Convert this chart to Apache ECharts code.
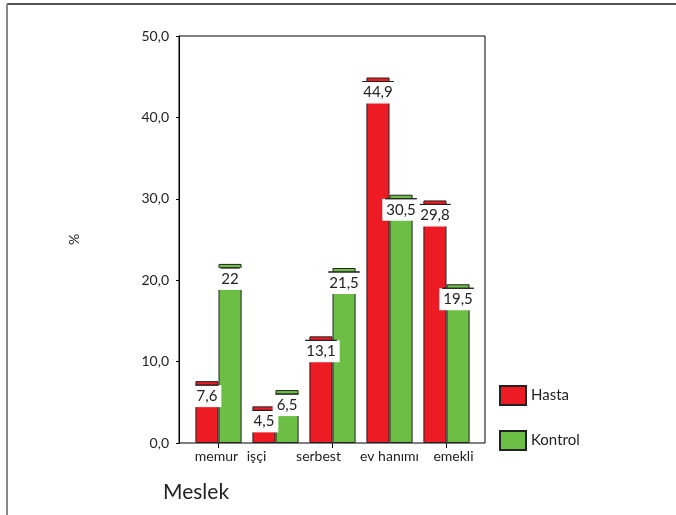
<!DOCTYPE html>
<html>
<head>
<meta charset="utf-8">
<script src="https://cdn.jsdelivr.net/npm/echarts@6/dist/echarts.min.js"></script>
<style>
  html, body { margin: 0; padding: 0; background: #fff; }
  #chart { width: 676px; height: 515px; }
</style>
</head>
<body>
<div id="chart"></div>
<script>
// Occupation groups and the share (%) of each group
const categories = ['memur', 'işçi', 'serbest', 'ev hanımı', 'emekli'];
const hasta = [7.6, 4.5, 13.1, 44.9, 29.8];
const kontrol = [22, 6.5, 21.5, 30.5, 19.5];
const yTicks = [0, 10, 20, 30, 40, 50];

// horizontal nudges (px) of the category names relative to their ticks
const labelShift = [-2, -19, -14, 0, 7];

const FONT = 'Lato, "Noto Sans", sans-serif';
const RED = '#ED1C24';
const GREEN = '#6CBE45';

function fmt(v) { return String(v).replace('.', ','); }

function barLabel() {
  return {
    show: true,
    position: 'insideTop',
    distance: 4,
    backgroundColor: '#fff',
    padding: [0, 3, 1, 3],
    formatter: p => '{hr|}\n{v|' + fmt(p.value) + '}',
    rich: {
      hr: { borderColor: '#222', borderWidth: 1, width: '100%', height: 0, align: 'left' },
      v: { fontFamily: FONT, fontSize: 15, color: '#222', lineHeight: 21, padding: [1, 1, 0, 1] }
    }
  };
}

const chart = echarts.init(document.getElementById('chart'), null, { renderer: 'canvas' });

const baseGraphics = [
  { type: 'line', shape: { x1: 7, y1: 4, x2: 676, y2: 4 }, style: { stroke: '#555', lineWidth: 2 } },
  { type: 'line', shape: { x1: 7, y1: 4, x2: 7, y2: 515 }, style: { stroke: '#888', lineWidth: 2 } },
  { type: 'text', left: 163, top: 482, style: { text: 'Meslek', fontFamily: FONT, fontSize: 21, fill: '#222' } }
];

chart.setOption({
  animation: false,
  backgroundColor: '#fff',
  grid: [
    // frame of the plot area
    { left: 179, top: 36, width: 306, height: 407, show: true, borderColor: '#000', borderWidth: 1, backgroundColor: 'transparent' },
    // area holding the bars
    { left: 190, top: 36, width: 285, height: 407 }
  ],
  xAxis: [
    { type: 'value', gridIndex: 0, min: 0, max: 1, show: false },
    {
      type: 'category', gridIndex: 1, data: categories,
      axisLine: { show: false },
      axisTick: { show: true, alignWithLabel: true, length: 5, lineStyle: { color: '#000' } },
      axisLabel: { show: false }
    }
  ],
  yAxis: [
    {
      type: 'value', gridIndex: 0, min: 0, max: 50, interval: 10,
      name: '%', nameLocation: 'middle', nameRotate: 90, nameGap: 98,
      nameTextStyle: { fontFamily: FONT, fontSize: 14, color: '#222' },
      axisLine: { show: true, lineStyle: { color: '#000', width: 1 } },
      axisTick: { show: true, length: 3, lineStyle: { color: '#000' } },
      axisLabel: { fontFamily: FONT, fontSize: 14, color: '#222', margin: 10, formatter: v => yTicks.includes(v) ? v.toFixed(1).replace('.', ',') : '' },
      splitLine: { show: false }
    },
    { type: 'value', gridIndex: 1, min: 0, max: 50, show: false }
  ],
  legend: {
    orient: 'vertical', left: 494, top: 380,
    itemWidth: 26, itemHeight: 19, itemGap: 24,
    icon: 'rect',
    textStyle: { fontFamily: FONT, fontSize: 15, color: '#222' },
    data: ['Hasta', 'Kontrol']
  },
  series: [
    {
      name: 'Hasta', type: 'bar', xAxisIndex: 1, yAxisIndex: 1,
      data: hasta, barGap: '0%', barCategoryGap: '19%',
      itemStyle: { color: RED, borderColor: '#222', borderWidth: 1 },
      label: barLabel()
    },
    {
      name: 'Kontrol', type: 'bar', xAxisIndex: 1, yAxisIndex: 1,
      data: kontrol, barGap: '0%', barCategoryGap: '19%',
      itemStyle: { color: GREEN, borderColor: '#222', borderWidth: 1 },
      label: barLabel()
    }
  ],
  graphic: baseGraphics
});

// category names, placed at the axis positions reported by the category scale
const baseY = chart.convertToPixel({ yAxisIndex: 1 }, 0);
const nameGraphics = categories.map((c, i) => {
  const x = chart.convertToPixel({ xAxisIndex: 1 }, i);
  return {
    type: 'text', x: x + labelShift[i], y: baseY + 6,
    style: { text: c, fontFamily: FONT, fontSize: 14, fill: '#222', align: 'center', verticalAlign: 'top' }
  };
});
chart.setOption({ graphic: baseGraphics.concat(nameGraphics) });
</script>
</body>
</html>
